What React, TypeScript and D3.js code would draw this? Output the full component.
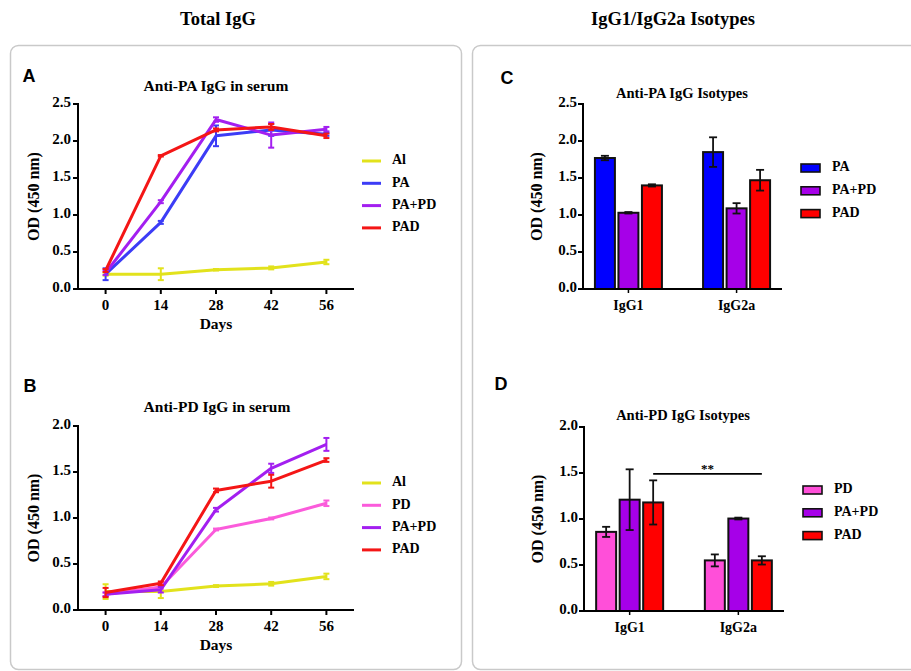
import React from "react";
import * as d3 from "d3";

// ---------- DATA ----------
const dayTicks = [0, 14, 28, 42, 56];

// Panel A: Anti-PA IgG in serum
const aSeriesNames = ["Al", "PA", "PA+PD", "PAD"];
const aAl = [0.2, 0.2, 0.26, 0.285, 0.365];
const aAlErr = [0.02, 0.08, 0.01, 0.02, 0.03];
const aPA = [0.2, 0.9, 2.07, 2.15, 2.09];
const aPAErr = [0.08, 0.02, 0.14, 0.08, 0.02];
const aPAPD = [0.22, 1.18, 2.29, 2.08, 2.16];
const aPAPDErr = [0.03, 0.02, 0.03, 0.17, 0.03];
const aPAD = [0.25, 1.8, 2.15, 2.19, 2.07];
const aPADErr = [0.02, 0.01, 0.02, 0.04, 0.03];
const aYTicks = [0, 0.5, 1.0, 1.5, 2.0, 2.5];

// Panel B: Anti-PD IgG in serum
const bSeriesNames = ["Al", "PD", "PA+PD", "PAD"];
const bAl = [0.2, 0.2, 0.26, 0.285, 0.365];
const bAlErr = [0.08, 0.07, 0.01, 0.02, 0.03];
const bPD = [0.17, 0.25, 0.875, 0.995, 1.16];
const bPDErr = [0.02, 0.02, 0.01, 0.01, 0.03];
const bPAPD = [0.17, 0.22, 1.09, 1.54, 1.8];
const bPAPDErr = [0.02, 0.03, 0.02, 0.05, 0.07];
const bPAD = [0.19, 0.29, 1.3, 1.4, 1.63];
const bPADErr = [0.05, 0.02, 0.02, 0.07, 0.02];
const bYTicks = [0, 0.5, 1.0, 1.5, 2.0];

// Panel C: Anti-PA IgG Isotypes
const isotypes = ["IgG1", "IgG2a"];
const cSeriesNames = ["PA", "PA+PD", "PAD"];
const cPA = [1.77, 1.85];
const cPAErr = [0.03, 0.2];
const cPAPD = [1.03, 1.09];
const cPAPDErr = [0.01, 0.07];
const cPAD = [1.4, 1.47];
const cPADErr = [0.015, 0.14];

// Panel D: Anti-PD IgG Isotypes
const dSeriesNames = ["PD", "PA+PD", "PAD"];
const dPD = [0.86, 0.55];
const dPDErr = [0.055, 0.065];
const dPAPD = [1.21, 1.005];
const dPAPDErr = [0.33, 0.01];
const dPAD = [1.18, 0.55];
const dPADErr = [0.24, 0.045];
const dSigValue = 1.49;
const dSigLabel = "**";

// ---------- STYLE ----------
const SERIF = "'Liberation Serif', 'Times New Roman', serif";
const SANS = "'Liberation Sans', Arial, sans-serif";
const lineColors: Record<string, string> = {
  Al: "#e2e21c",
  PA: "#3c3cf6",
  "PA+PD": "#a31ff0",
  PAD: "#f41616",
  PD: "#fb5bdb",
};
const barColors: Record<string, string> = {
  PA: "#0000ff",
  "PA+PD": "#a600e8",
  PAD: "#ff0000",
  PD: "#ff4fd9",
};

type Series = { name: string; values: number[]; errors: number[] };

function LineChart(props: {
  letter: string;
  letterPos: [number, number];
  title: string;
  titlePos: [number, number];
  left: number;
  right: number;
  top: number;
  bottom: number;
  yMax: number;
  yTicks: number[];
  series: Series[];
  legendX: number;
  legendY: number;
}) {
  const { left, right, top, bottom } = props;
  const x = d3.scaleLinear().domain([-7, 63]).range([left, right]);
  const y = d3.scaleLinear().domain([0, props.yMax]).range([bottom, top]);
  const line = d3
    .line<number>()
    .x((_, i) => x(dayTicks[i]))
    .y((d) => y(d));
  const midY = (top + bottom) / 2;
  return (
    <g>
      <text x={props.letterPos[0]} y={props.letterPos[1]} fontFamily={SANS} fontWeight="bold" fontSize={18} textAnchor="middle" dominantBaseline="middle">
        {props.letter}
      </text>
      <text x={props.titlePos[0]} y={props.titlePos[1]} fontFamily={SERIF} fontWeight="bold" fontSize={15.5} textAnchor="middle" dominantBaseline="middle">
        {props.title}
      </text>
      {/* axes */}
      <line x1={left} x2={left} y1={top - 1} y2={bottom + 1} stroke="#000" strokeWidth={2} />
      <line x1={left - 1} x2={right} y1={bottom} y2={bottom} stroke="#000" strokeWidth={2} />
      {props.yTicks.map((t) => (
        <g key={t}>
          <line x1={left - 5} x2={left} y1={y(t)} y2={y(t)} stroke="#000" strokeWidth={2} />
          <text x={left - 7} y={y(t)} fontFamily={SERIF} fontWeight="bold" fontSize={15} textAnchor="end" dominantBaseline="middle">
            {t.toFixed(1)}
          </text>
        </g>
      ))}
      {dayTicks.map((t) => (
        <g key={t}>
          <line x1={x(t)} x2={x(t)} y1={bottom} y2={bottom + 5} stroke="#000" strokeWidth={2} />
          <text x={x(t)} y={bottom + 18} fontFamily={SERIF} fontWeight="bold" fontSize={15} textAnchor="middle" dominantBaseline="middle">
            {t}
          </text>
        </g>
      ))}
      <text x={x(28)} y={bottom + 36} fontFamily={SERIF} fontWeight="bold" fontSize={15.5} textAnchor="middle" dominantBaseline="middle">
        Days
      </text>
      <text
        transform={`translate(${left - 43},${midY}) rotate(-90)`}
        fontFamily={SERIF}
        fontWeight="bold"
        fontSize={16}
        textAnchor="middle"
        dominantBaseline="middle"
      >
        OD (450 nm)
      </text>
      {/* series */}
      {props.series.map((s) => (
        <g key={s.name}>
          <path d={line(s.values) || ""} fill="none" stroke={lineColors[s.name]} strokeWidth={3} strokeLinejoin="round" />
          {s.values.map((v, i) => {
            const cx = x(dayTicks[i]);
            const y1 = y(v + s.errors[i]);
            const y2 = y(v - s.errors[i]);
            return (
              <g key={i} stroke={lineColors[s.name]} strokeWidth={2}>
                <line x1={cx} x2={cx} y1={y1} y2={y2} />
                <line x1={cx - 3} x2={cx + 3} y1={y1} y2={y1} />
                <line x1={cx - 3} x2={cx + 3} y1={y2} y2={y2} />
              </g>
            );
          })}
        </g>
      ))}
      {/* legend */}
      {props.series.map((s, i) => {
        const ly = props.legendY + i * 22.3;
        return (
          <g key={s.name}>
            <line x1={props.legendX} x2={props.legendX + 19} y1={ly} y2={ly} stroke={lineColors[s.name]} strokeWidth={3} />
            <text x={props.legendX + 30} y={ly} fontFamily={SERIF} fontWeight="bold" fontSize={14} dominantBaseline="middle">
              {s.name}
            </text>
          </g>
        );
      })}
    </g>
  );
}

function BarChart(props: {
  letter: string;
  letterPos: [number, number];
  title: string;
  titlePos: [number, number];
  left: number;
  right: number;
  top: number;
  bottom: number;
  yMax: number;
  yTicks: number[];
  series: Series[];
  legendX: number;
  legendY: number;
  sig?: { value: number; label: string };
}) {
  const { left, right, top, bottom } = props;
  const x0 = d3.scalePoint<string>().domain(isotypes).range([left, right]).padding(0.42);
  const names = props.series.map((s) => s.name);
  const x1 = d3.scaleBand<string>().domain(names).range([-33.5, 33.5]).paddingInner(0.15);
  const y = d3.scaleLinear().domain([0, props.yMax]).range([bottom, top]);
  const midY = (top + bottom) / 2;
  let sigEl = null;
  if (props.sig) {
    const last = names[names.length - 1];
    const xa = (x0(isotypes[0]) as number) + (x1(last) as number) + x1.bandwidth() / 2;
    const xb = (x0(isotypes[1]) as number) + (x1(last) as number) + x1.bandwidth() / 2;
    const sy = y(props.sig.value);
    sigEl = (
      <g>
        <line x1={xa} x2={xb} y1={sy} y2={sy} stroke="#000" strokeWidth={1.6} />
        <text x={(xa + xb) / 2} y={sy - 1} fontFamily={SERIF} fontWeight="bold" fontSize={13} textAnchor="middle">
          {props.sig.label}
        </text>
      </g>
    );
  }
  return (
    <g>
      <text x={props.letterPos[0]} y={props.letterPos[1]} fontFamily={SANS} fontWeight="bold" fontSize={18} textAnchor="middle" dominantBaseline="middle">
        {props.letter}
      </text>
      <text x={props.titlePos[0]} y={props.titlePos[1]} fontFamily={SERIF} fontWeight="bold" fontSize={14.5} textAnchor="middle" dominantBaseline="middle">
        {props.title}
      </text>
      {props.series.map((s) => (
        <g key={s.name}>
          {s.values.map((v, i) => {
            const bx = (x0(isotypes[i]) as number) + (x1(s.name) as number);
            const bw = x1.bandwidth();
            const cx = bx + bw / 2;
            const y1 = y(v + s.errors[i]);
            const y2 = y(v - s.errors[i]);
            return (
              <g key={i}>
                <rect x={bx} y={y(v)} width={bw} height={bottom - y(v)} fill={barColors[s.name]} stroke="#111" strokeWidth={2} />
                <g stroke="#111" strokeWidth={1.8}>
                  <line x1={cx} x2={cx} y1={y1} y2={y2} />
                  <line x1={cx - 4} x2={cx + 4} y1={y1} y2={y1} />
                  <line x1={cx - 4} x2={cx + 4} y1={y2} y2={y2} />
                </g>
              </g>
            );
          })}
        </g>
      ))}
      {/* axes */}
      <line x1={left} x2={left} y1={top - 1} y2={bottom + 1} stroke="#000" strokeWidth={2} />
      <line x1={left - 1} x2={right} y1={bottom} y2={bottom} stroke="#000" strokeWidth={2} />
      {props.yTicks.map((t) => (
        <g key={t}>
          <line x1={left - 5} x2={left} y1={y(t)} y2={y(t)} stroke="#000" strokeWidth={2} />
          <text x={left - 6} y={y(t)} fontFamily={SERIF} fontWeight="bold" fontSize={15} textAnchor="end" dominantBaseline="middle">
            {t.toFixed(1)}
          </text>
        </g>
      ))}
      {isotypes.map((c) => (
        <g key={c}>
          <line x1={x0(c)} x2={x0(c)} y1={bottom} y2={bottom + 4} stroke="#000" strokeWidth={1.5} />
          <text x={x0(c)} y={bottom + 18} fontFamily={SERIF} fontWeight="bold" fontSize={14} textAnchor="middle" dominantBaseline="middle">
            {c}
          </text>
        </g>
      ))}
      <text
        transform={`translate(${left - 45},${midY}) rotate(-90)`}
        fontFamily={SERIF}
        fontWeight="bold"
        fontSize={16}
        textAnchor="middle"
        dominantBaseline="middle"
      >
        OD (450 nm)
      </text>
      {sigEl}
      {/* legend */}
      {props.series.map((s, i) => {
        const ly = props.legendY + i * 22.8;
        return (
          <g key={s.name}>
            <rect x={props.legendX} y={ly - 4} width={19} height={8} fill={barColors[s.name]} stroke="#111" strokeWidth={1.6} />
            <text x={props.legendX + 31} y={ly} fontFamily={SERIF} fontWeight="bold" fontSize={14} dominantBaseline="middle">
              {s.name}
            </text>
          </g>
        );
      })}
    </g>
  );
}

export default function App() {
  const aSeries: Series[] = [
    { name: aSeriesNames[0], values: aAl, errors: aAlErr },
    { name: aSeriesNames[1], values: aPA, errors: aPAErr },
    { name: aSeriesNames[2], values: aPAPD, errors: aPAPDErr },
    { name: aSeriesNames[3], values: aPAD, errors: aPADErr },
  ];
  const bSeries: Series[] = [
    { name: bSeriesNames[0], values: bAl, errors: bAlErr },
    { name: bSeriesNames[1], values: bPD, errors: bPDErr },
    { name: bSeriesNames[2], values: bPAPD, errors: bPAPDErr },
    { name: bSeriesNames[3], values: bPAD, errors: bPADErr },
  ];
  const cSeries: Series[] = [
    { name: cSeriesNames[0], values: cPA, errors: cPAErr },
    { name: cSeriesNames[1], values: cPAPD, errors: cPAPDErr },
    { name: cSeriesNames[2], values: cPAD, errors: cPADErr },
  ];
  const dSeries: Series[] = [
    { name: dSeriesNames[0], values: dPD, errors: dPDErr },
    { name: dSeriesNames[1], values: dPAPD, errors: dPAPDErr },
    { name: dSeriesNames[2], values: dPAD, errors: dPADErr },
  ];
  return (
    <svg
      width={911}
      height={671}
      style={{ position: "absolute", left: 0, top: 0, background: "#fff" }}
    >
      <rect x={0} y={0} width={911} height={671} fill="#fff" />
      <text x={218} y={21} fontFamily={SERIF} fontWeight="bold" fontSize={18.5} textAnchor="middle" dominantBaseline="middle">
        Total IgG
      </text>
      <text x={673} y={21} fontFamily={SERIF} fontWeight="bold" fontSize={18.5} textAnchor="middle" dominantBaseline="middle">
        IgG1/IgG2a Isotypes
      </text>
      <rect x={10.5} y={45.5} width={451} height={624} rx={8} fill="none" stroke="#c9c9c9" strokeWidth={1.5} />
      <rect x={472.5} y={45.5} width={446} height={624} rx={8} fill="none" stroke="#c9c9c9" strokeWidth={1.5} />

      <LineChart
        letter="A"
        letterPos={[29, 77]}
        title="Anti-PA IgG in serum"
        titlePos={[216, 87]}
        left={78}
        right={354}
        top={104}
        bottom={289}
        yMax={2.5}
        yTicks={aYTicks}
        series={aSeries}
        legendX={362}
        legendY={161}
      />
      <LineChart
        letter="B"
        letterPos={[30, 387]}
        title="Anti-PD IgG in serum"
        titlePos={[217, 408]}
        left={78}
        right={354}
        top={426}
        bottom={610}
        yMax={2.0}
        yTicks={bYTicks}
        series={bSeries}
        legendX={362}
        legendY={483}
      />
      <BarChart
        letter="C"
        letterPos={[507, 79]}
        title="Anti-PA IgG Isotypes"
        titlePos={[682, 95]}
        left={583}
        right={782}
        top={104}
        bottom={289}
        yMax={2.5}
        yTicks={aYTicks}
        series={cSeries}
        legendX={801}
        legendY={168}
      />
      <BarChart
        letter="D"
        letterPos={[501, 385]}
        title="Anti-PD IgG Isotypes"
        titlePos={[683, 417]}
        left={584}
        right={784}
        top={427}
        bottom={611}
        yMax={2.0}
        yTicks={bYTicks}
        series={dSeries}
        legendX={803}
        legendY={490}
        sig={{ value: dSigValue, label: dSigLabel }}
      />
    </svg>
  );
}
